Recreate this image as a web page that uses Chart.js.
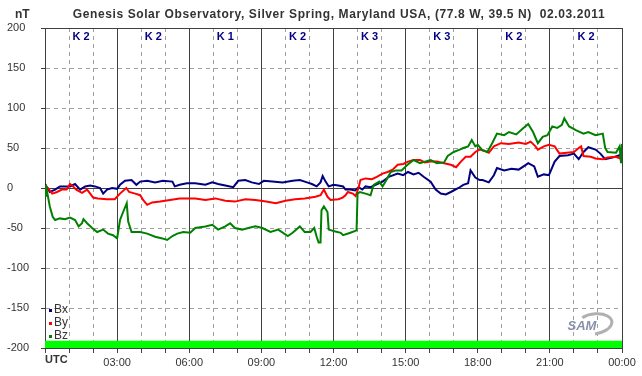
<!DOCTYPE html>
<html>
<head>
<meta charset="utf-8">
<script src="https://cdn.jsdelivr.net/npm/chart.js@4.4.1/dist/chart.umd.min.js"></script>
<style>
  html, body { margin: 0; padding: 0; background: #fff; }
  #wrap { width: 642px; height: 376px; position: relative; }
</style>
</head>
<body>
<div id="wrap"><canvas id="magChart"></canvas></div>
<script>
const FONT = 'Arial, "Liberation Sans", sans-serif';
const chartTitle = 'Genesis Solar Observatory, Silver Spring, Maryland USA, (77.8 W, 39.5 N)  02.03.2011';
const kIndex = [2, 2, 1, 2, 3, 3, 2, 2];
const hourLabels = ['UTC', '03:00', '06:00', '09:00', '12:00', '15:00', '18:00', '21:00', '00:00'];

// Bx (nT) vs hours UTC
const bxHours = [0, 0.2, 0.42, 0.62, 1.04, 1.25, 1.46, 1.67, 1.88, 2.08, 2.29, 2.42, 2.58, 2.79, 3.0, 3.12, 3.33, 3.6, 3.8, 3.96,
  4.25, 4.58, 4.9, 5.3, 5.4, 5.6, 5.9, 6.25, 6.67, 6.96, 7.2, 7.5, 7.83, 8.04, 8.33, 8.6, 8.9, 9.1, 9.46, 9.88,
  10.3, 10.6, 10.9, 11.1, 11.3, 11.46, 11.55, 11.67, 11.8, 12.0, 12.2, 12.4, 12.5, 12.7, 12.9, 13.04, 13.2, 13.33, 13.54, 13.75,
  14.04, 14.3, 14.67, 14.9, 15.1, 15.33, 15.54, 15.75, 16.04, 16.25, 16.46, 16.67, 16.88, 17.2, 17.4, 17.6, 17.7, 17.9, 18.08, 18.2,
  18.46, 18.67, 18.8, 19.1, 19.4, 19.7, 20.0, 20.1, 20.35, 20.5, 20.75, 20.96, 21.2, 21.4, 21.75, 22.0, 22.2, 22.4, 22.6, 22.9,
  23.1, 23.3, 23.6, 23.9, 24];
const bxValues = [5, -5, -2, 2, 2, 5, -2, 2, 3, 2, 0, -7, -2, 0, -1, 4, 9, 10, 4, 8,
  9, 7, 9, 8, 2, 4, 6, 6, 4, 7, 5, 3, 1, 9, 10, 7, 5, 9, 8, 7,
  9, 10, 7, 5, 2, 7, 15, 8, 2, 4, 3, 2, -2, -2, -3, 1, -2, 2, 1, 4,
  8, 14, 18, 16, 20, 17, 19, 14, 8, -2, -7, -8, -5, 0, 4, 6, 22, 13, 10, 10,
  7, 16, 25, 22, 24, 23, 29, 31, 27, 14, 17, 16, 33, 40, 41, 43, 36, 45, 51, 48,
  43, 36, 38, 41, 37];

// By (nT)
const byHours = [0, 0.12, 0.3, 0.5, 0.7, 0.9, 1.04, 1.17, 1.3, 1.54, 1.75, 1.88, 2.0, 2.2, 2.58, 2.9, 3.12, 3.38, 3.5, 3.75,
  3.96, 4.08, 4.25, 4.46, 4.79, 5.2, 5.6, 6.0, 6.25, 6.67, 7.08, 7.5, 7.9, 8.33, 8.75, 9.2, 9.6, 10.0, 10.4, 10.8,
  11.25, 11.46, 11.6, 11.75, 11.88, 12.2, 12.38, 12.5, 12.6, 12.8, 12.92, 13.04, 13.12, 13.33, 13.6, 13.8, 14.04, 14.25, 14.46, 14.67,
  14.9, 15.1, 15.33, 15.6, 15.8, 16.04, 16.3, 16.6, 16.88, 17.1, 17.3, 17.5, 17.7, 17.9, 18.08, 18.25, 18.46, 18.67, 18.96, 19.3,
  19.7, 20.0, 20.2, 20.4, 20.5, 20.75, 20.96, 21.2, 21.4, 21.7, 22.0, 22.2, 22.3, 22.4, 22.7, 22.9, 23.2, 23.4, 23.75, 24];
const byValues = [2, 0, -7, -5, -2, -2, 5, 2, -2, -6, -2, -7, -12, -13, -14, -14, -7, 0, -5, -7,
  -9, -15, -21, -18, -17, -15, -13, -13, -13, -15, -13, -16, -17, -14, -15, -17, -19, -16, -14, -13,
  -11, -9, -2, -11, -15, -14, -12, -9, -5, -7, -10, 0, 10, 12, 11, 14, 18, 20, 23, 29,
  30, 33, 35, 35, 32, 33, 33, 31, 29, 26, 33, 39, 39, 45, 48, 47, 44, 52, 56, 55,
  57, 55, 58, 52, 48, 52, 54, 52, 43, 44, 45, 50, 52, 40, 39, 37, 36, 38, 39, 36];

// Bz (nT)
const bzHours = [0, 0.03, 0.07, 0.2, 0.32, 0.42, 0.62, 0.83, 1.04, 1.25, 1.4, 1.54, 1.6, 1.75, 1.96, 2.17, 2.42, 2.62, 2.83, 3.0,
  3.12, 3.25, 3.4, 3.46, 3.6, 3.96, 4.25, 4.58, 4.88, 5.08, 5.3, 5.5, 5.75, 6.04, 6.25, 6.67, 6.96, 7.2, 7.5, 7.7,
  7.9, 8.2, 8.46, 8.75, 9.04, 9.38, 9.7, 10.1, 10.3, 10.6, 10.8, 11.04, 11.2, 11.3, 11.38, 11.46, 11.5, 11.6, 11.75, 11.8,
  12.04, 12.3, 12.4, 12.7, 12.96, 13.0, 13.1, 13.33, 13.54, 13.67, 13.9, 14.04, 14.2, 14.38, 14.6, 14.83, 15.08, 15.33, 15.6, 15.8,
  16.04, 16.3, 16.6, 16.75, 17.0, 17.25, 17.4, 17.6, 17.75, 17.9, 18.0, 18.2, 18.4, 18.6, 18.8, 19.1, 19.3, 19.6, 19.9, 20.1,
  20.3, 20.5, 20.7, 20.9, 21.1, 21.3, 21.5, 21.6, 21.8, 22.1, 22.4, 22.6, 22.9, 23.2, 23.3, 23.4, 23.75, 23.9, 23.96, 24];
const bzValues = [4, -11, -2, -23, -36, -40, -38, -39, -37, -40, -48, -44, -39, -44, -50, -55, -52, -57, -59, -63,
  -40, -30, -19, -42, -55, -55, -57, -61, -63, -65, -60, -57, -55, -56, -50, -48, -46, -52, -48, -44,
  -50, -52, -50, -48, -50, -55, -52, -60, -56, -48, -55, -55, -50, -61, -68, -68, -28, -23, -30, -52,
  -54, -56, -59, -56, -53, -7, -5, -7, -9, 4, 8, 2, 10, 20, 22, 22, 29, 35, 31, 33,
  35, 31, 32, 40, 45, 48, 50, 52, 60, 52, 54, 47, 45, 56, 68, 66, 70, 67, 75, 80,
  70, 56, 64, 66, 77, 75, 79, 87, 77, 72, 68, 70, 66, 68, 50, 45, 44, 52, 31, 55];

// data coverage bar along the bottom
const coverageHours = [0, 24];
const coverageValues = [-191, -191];

function toPoints(hours, values) {
  return hours.map((h, i) => ({ x: h, y: values[i] }));
}

const GRID_DARK = '#404040';
const GRID_LIGHT = '#a0a0a0';

const overlayText = {
  id: 'overlayText',
  afterDraw(chart) {
    const { ctx, chartArea } = chart;
    const x = chart.scales.x;
    ctx.save();
    ctx.textBaseline = 'alphabetic';
    ctx.fillStyle = '#333';
    ctx.font = 'bold 12px ' + FONT;
    ctx.textAlign = 'center';
    if ('letterSpacing' in ctx) ctx.letterSpacing = '0.6px';
    ctx.fillText(chartTitle, 339, 18);
    if ('letterSpacing' in ctx) ctx.letterSpacing = '0px';
    ctx.textAlign = 'left';
    ctx.fillText('nT', 15, 18);

    ctx.textBaseline = 'middle';
    // K-index per 3 hour block
    ctx.font = 'bold 11px ' + FONT;
    ctx.fillStyle = '#000080';
    ctx.textAlign = 'center';
    kIndex.forEach((k, i) => {
      ctx.fillText('K ' + k, x.getPixelForValue(i * 3 + 1.5), chartArea.top + 9);
    });

    // UTC label at start of axis
    ctx.fillStyle = '#333';
    ctx.textAlign = 'left';
    ctx.font = 'bold 11px ' + FONT;
    ctx.fillText(hourLabels[0], x.getPixelForValue(0), chartArea.bottom + 12);

    // legend
    ctx.font = '12px ' + FONT;
    chart.data.datasets.slice(0, 3).reverse().forEach((ds, i) => {
      const ly = chartArea.bottom - 38 + i * 13;
      ctx.fillStyle = ds.borderColor;
      ctx.fillRect(chartArea.left + 4, ly - 1, 3, 3);
      ctx.fillStyle = '#333';
      ctx.fillText(ds.label, chartArea.left + 9, ly);
    });

    // SAM logo
    ctx.strokeStyle = '#b0b0b0';
    ctx.lineWidth = 3;
    ctx.beginPath();
    ctx.ellipse(594, 324, 18, 10, -0.15, -2.2, 1.6);
    ctx.stroke();
    ctx.font = 'italic bold 13px ' + FONT;
    ctx.fillStyle = '#8890aa';
    ctx.textAlign = 'center';
    ctx.fillText('SAM', 582, 326);
    ctx.restore();
  }
};

const ctx = document.getElementById('magChart').getContext('2d');
new Chart(ctx, {
  type: 'line',
  data: {
    datasets: [
      { label: 'Bz', data: toPoints(bzHours, bzValues), borderColor: '#008000', borderWidth: 2, pointRadius: 0, tension: 0, fill: false },
      { label: 'By', data: toPoints(byHours, byValues), borderColor: '#ff0000', borderWidth: 2, pointRadius: 0, tension: 0, fill: false },
      { label: 'Bx', data: toPoints(bxHours, bxValues), borderColor: '#000080', borderWidth: 2, pointRadius: 0, tension: 0, fill: false },
      { label: 'coverage', data: toPoints(coverageHours, coverageValues), borderWidth: 0, borderColor: '#00ff00',
        backgroundColor: '#00ff00', pointRadius: 0, fill: 'start' }
    ]
  },
  options: {
    responsive: true,
    maintainAspectRatio: false,
    animation: false,
    layout: { padding: { left: 7, top: 28, right: 20, bottom: 0 } },
    plugins: {
      legend: { display: false },
      tooltip: { enabled: false }
    },
    scales: {
      x: {
        type: 'linear',
        min: 0,
        max: 24,
        afterFit: scale => { scale.height = 28; },
        ticks: {
          stepSize: 1,
          autoSkip: false,
          maxRotation: 0,
          padding: 3,
          color: '#333',
          font: { family: FONT, size: 11 },
          callback: v => (v % 3 === 0 && v !== 0) ? hourLabels[v / 3] : ''
        },
        grid: {
          color: c => (c.tick && c.tick.value % 3 === 0) ? GRID_DARK : GRID_LIGHT,
          tickColor: GRID_DARK,
          tickLength: 5,
          tickBorderDash: []
        },
        border: {
          color: GRID_DARK,
          dash: c => (c.tick && c.tick.value % 3 !== 0) ? [4, 4] : []
        }
      },
      y: {
        min: -200,
        max: 200,
        afterFit: scale => { scale.width = 38; },
        ticks: {
          stepSize: 50,
          crossAlign: 'far',
          color: '#333',
          font: { family: FONT, size: 11 }
        },
        grid: {
          color: c => (c.tick && (c.tick.value === 0 || Math.abs(c.tick.value) === 200)) ? GRID_DARK : GRID_LIGHT,
          tickColor: GRID_DARK,
          tickLength: 4,
          tickBorderDash: []
        },
        border: {
          color: GRID_DARK,
          dash: c => (c.tick && !(c.tick.value === 0 || Math.abs(c.tick.value) === 200)) ? [4, 4] : []
        }
      }
    }
  },
  plugins: [overlayText]
});
</script>
</body>
</html>
